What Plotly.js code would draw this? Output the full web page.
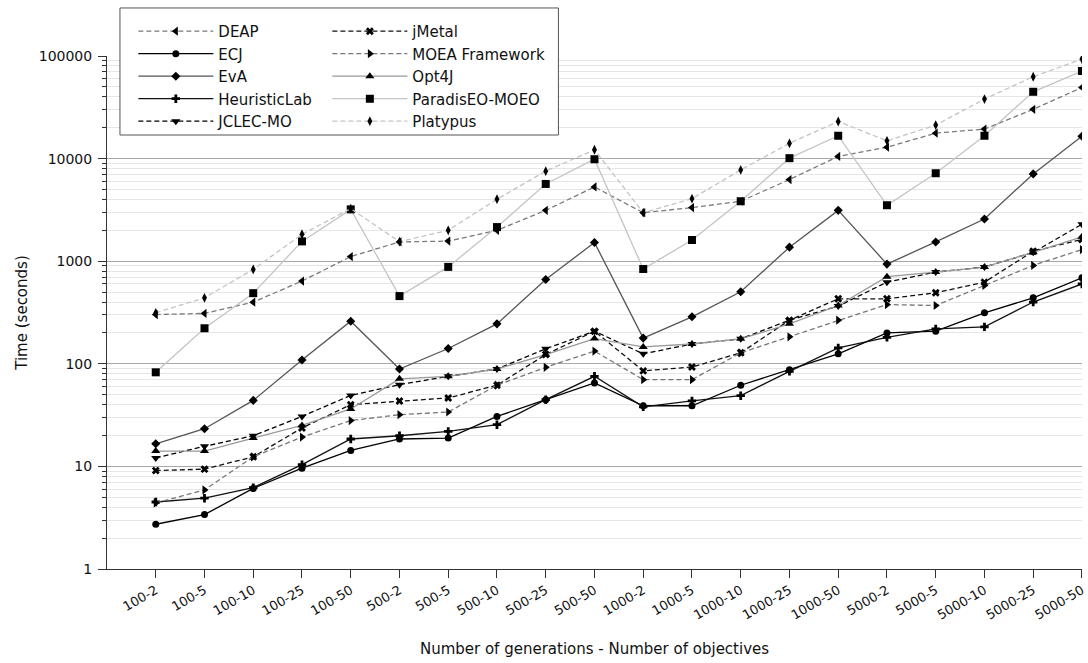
<!DOCTYPE html>
<html>
<head>
<meta charset="utf-8">
<script src="https://cdn.plot.ly/plotly-3.0.1.min.js"></script>
<style>html,body{margin:0;padding:0;background:#fff;}#chart{width:1088px;height:663px;}</style>
</head>
<body>
<div id="chart"></div>
<script>
const categories = ['100-2','100-5','100-10','100-25','100-50','500-2','500-5','500-10','500-25','500-50','1000-2','1000-5','1000-10','1000-25','1000-50','5000-2','5000-5','5000-10','5000-25','5000-50'];

const deap      = [302, 310, 399, 640, 1110, 1540, 1570, 2000, 3130, 5290, 2970, 3330, 3840, 6250, 10500, 12900, 17700, 19400, 30200, 49400];
const ecj       = [2.73, 3.39, 6.1, 9.6, 14.3, 18.5, 18.9, 30.7, 44.7, 65, 39, 39, 61.8, 87.7, 125, 200, 208, 314, 440, 690];
const eva       = [16.6, 23.3, 44, 109, 260, 89, 141, 245, 664, 1520, 178, 287, 504, 1370, 3130, 937, 1540, 2580, 7090, 16500];
const heuristic = [4.5, 4.9, 6.2, 10.4, 18.5, 19.9, 21.9, 25.5, 44.7, 75.5, 38, 43.5, 48.9, 84.5, 143, 181, 219, 229, 400, 600];
const jclec     = [12.1, 15.7, 19.9, 30.7, 49.2, 62.6, 75.5, 89, 140, 208, 125, 156, 175, 266, 365, 625, 783, 877, 1220, 2290];
const jmetal    = [9.1, 9.4, 12.4, 23.7, 40, 43.4, 46.5, 61.8, 123, 208, 85.3, 93, 128, 266, 430, 430, 492, 625, 1250, 1630];
const moea      = [4.4, 5.9, 12.4, 19.3, 28, 31.9, 33.9, 61.8, 92.5, 133, 70.1, 70, 128, 183, 266, 378, 370, 580, 910, 1300];
const opt4j     = [14.1, 14.1, 18.9, 25.1, 36.3, 71.3, 75.5, 89, 123, 176, 146, 156, 175, 245, 370, 706, 783, 877, 1220, 1730];
const paradiseo = [82.6, 222, 488, 1560, 3200, 457, 880, 2150, 5660, 9860, 840, 1610, 3840, 10100, 16700, 3510, 7200, 16700, 44800, 71400];
const platypus  = [314, 440, 832, 1830, 3250, 1550, 2000, 4020, 7540, 12200, 2970, 4070, 7760, 14100, 23000, 14900, 21200, 38000, 62800, 93500];

const xIdx = categories.map((c, i) => i);
const DASH = '5px,3px';

function tr(name, y, color, dash, symbol, msize, legend) {
  return {
    type: 'scatter', mode: 'lines+markers', name: name, x: xIdx, y: y,
    line: {color: color, width: 1.3, dash: dash},
    marker: {symbol: symbol, size: msize, color: '#000', line: {width: 0}},
    legend: legend,
    hoverinfo: 'x+y+name'
  };
}

const data = [
  tr('DEAP', deap, '#7a7a7a', DASH, 'triangle-left', 8, 'legend'),
  tr('ECJ', ecj, '#000000', 'solid', 'circle', 7, 'legend'),
  tr('EvA', eva, '#555555', 'solid', 'diamond', 7, 'legend'),
  tr('HeuristicLab', heuristic, '#111111', 'solid', 'cross', 7, 'legend'),
  tr('JCLEC-MO', jclec, '#000000', DASH, 'triangle-down', 8, 'legend'),
  tr('jMetal', jmetal, '#111111', DASH, 'x', 7, 'legend2'),
  tr('MOEA Framework', moea, '#777777', DASH, 'triangle-right', 8, 'legend2'),
  tr('Opt4J', opt4j, '#999999', 'solid', 'triangle-up', 8, 'legend2'),
  tr('ParadisEO-MOEO', paradiseo, '#c4c4c4', 'solid', 'square', 8, 'legend2'),
  tr('Platypus', platypus, '#c4c4c4', DASH, 'diamond-tall', 7, 'legend2')
];

const font = {family: 'DejaVu Sans, Verdana, sans-serif', size: 13, color: '#111'};

const legendCommon = {
  bgcolor: 'rgba(0,0,0,0)', borderwidth: 0, itemwidth: 75,
  font: {family: 'DejaVu Sans, sans-serif', size: 15, color: '#111'},
  yanchor: 'top', xanchor: 'left', tracegroupgap: 0
};

const layout = {
  width: 1088, height: 663,
  margin: {l: 107, r: 6, t: 56, b: 94},
  paper_bgcolor: '#fff', plot_bgcolor: '#fff',
  font: font,
  showlegend: true,
  legend: Object.assign({}, legendCommon, {x: 0.027, y: 1.080}),
  legend2: Object.assign({}, legendCommon, {x: 0.226, y: 1.080}),
  shapes: [{
    type: 'rect', xref: 'paper', yref: 'paper',
    x0: 0.0133, x1: 0.463, y0: 0.846, y1: 1.0936,
    line: {color: '#555', width: 1}, fillcolor: '#fff', layer: 'above'
  }],
  xaxis: {
    type: 'linear', range: [-1, 19.001],
    tickmode: 'array', tickvals: xIdx, ticktext: categories,
    tickangle: -30, ticks: 'outside', ticklen: 8, tickcolor: '#333',
    ticklabeloverflow: 'allow',
    showgrid: false, zeroline: false,
    showline: true, linecolor: '#333', linewidth: 1,
    tickfont: {family: 'DejaVu Sans, sans-serif', size: 13, color: '#111'},
    title: {text: 'Number of generations - Number of objectives', font: {family: 'DejaVu Sans, sans-serif', size: 15, color: '#111'}, standoff: 22}
  },
  yaxis: {
    type: 'log', range: [0, 5], dtick: 1,
    tickvals: [1, 10, 100, 1000, 10000, 100000],
    ticktext: ['1', '10', '100', '1000', '10000', '100000'],
    ticks: 'outside', ticklen: 8, tickcolor: '#333', ticklabelstandoff: 3,
    showgrid: true, gridcolor: '#a8a8a8', gridwidth: 1.2,
    minor: {dtick: 'D1', showgrid: true, gridcolor: '#e6e6e6', gridwidth: 1, ticks: 'outside', ticklen: 4, tickcolor: '#333'},
    zeroline: false, showline: true, linecolor: '#333', linewidth: 1,
    tickfont: {family: 'DejaVu Sans, sans-serif', size: 14, color: '#111'},
    title: {text: 'Time (seconds)', font: {family: 'DejaVu Sans, sans-serif', size: 15, color: '#111'}, standoff: 7}
  }
};

Plotly.newPlot('chart', data, layout, {displayModeBar: false, staticPlot: true});
</script>
</body>
</html>
